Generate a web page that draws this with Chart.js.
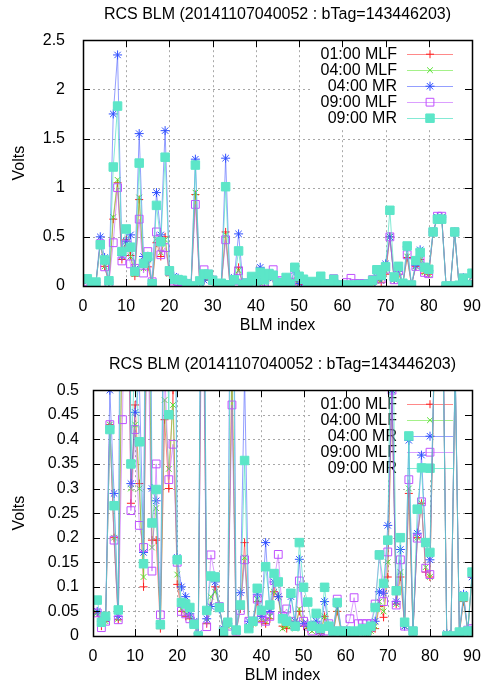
<!DOCTYPE html>
<html>
<head>
<meta charset="utf-8">
<title>RCS BLM</title>
<script src="https://cdn.jsdelivr.net/npm/chart.js@4.4.1/dist/chart.umd.min.js"></script>
<style>
  html, body { margin: 0; padding: 0; background: #fff; overflow: hidden; }
  .panel { position: absolute; left: 0; width: 491px; height: 342px; }
</style>
</head>
<body>
<div class="panel" style="top:0"><canvas id="top" width="491" height="342"></canvas></div>
<div class="panel" style="top:350px"><canvas id="bottom" width="491" height="342"></canvas></div>
<script>
// BLM index 1..90
const blmIndex = Array.from({ length: 90 }, (_, i) => i + 1);

const seriesNames = ['01:00 MLF', '04:00 MLF', '04:00 MR', '09:00 MLF', '09:00 MR'];

const mlf0100 = [
  0.047, 0.02, 0.03, 0.43, 0.2, 0.033, 0.68, 1.05, 0.27, 0.47,
  0.31, 0.1, 0.88, 0.195, 0.195, 0.015, 0.44, 0.3, 0.5, 0.105,
  0.05, 0.04, 0.035, 0.025, 0.0, 0.93, 0.025, 0.06, 0.1, 0.06,
  0.01, 0.02, 0.55, 0.01, 0.055, 0.19, 0.02, 0.025, 0.07, 0.03,
  0.025, 0.035, 0.09, 0.08, 0.02, 0.015, 0.03, 0.02, 0.05, 0.02,
  0.015, 0.015, 0.015, 0.005, 0.04, 0.015, 0.005, 0.05, 0.005, 0.0,
  0.005, 0.005, 0.005, 0.01, 0.005, 0.01, 0.015, 0.06, 0.038, 0.12,
  0.5, 0.065, 0.12, 0.022, 0.29, 0.01, 0.2, 0.27, 0.13, 0.12,
  0.54, 0.7, 0.7, 0.005, 0.0, 0.54, 0.005, 0.07, 0.01, 0.12
];
const mlf0400 = [
  0.047, 0.025, 0.03, 0.43, 0.2, 0.035, 0.7, 1.08, 0.3, 0.43,
  0.3, 0.12, 0.9, 0.18, 0.26, 0.02, 0.48, 0.34, 0.47, 0.125,
  0.055, 0.045, 0.04, 0.025, 0.0, 0.95, 0.03, 0.08, 0.09, 0.06,
  0.01, 0.02, 0.52, 0.01, 0.06, 0.16, 0.02, 0.025, 0.075, 0.035,
  0.03, 0.04, 0.09, 0.08, 0.015, 0.02, 0.02, 0.015, 0.055, 0.025,
  0.02, 0.01, 0.02, 0.005, 0.04, 0.02, 0.005, 0.055, 0.005, 0.0,
  0.01, 0.005, 0.01, 0.01, 0.005, 0.01, 0.02, 0.07, 0.05, 0.15,
  0.5, 0.065, 0.13, 0.02, 0.3, 0.01, 0.2, 0.27, 0.14, 0.12,
  0.54, 0.7, 0.7, 0.005, 0.0, 0.54, 0.005, 0.075, 0.01, 0.12
];
const mr0400 = [
  0.05, 0.03, 0.035, 0.5, 0.29, 0.04, 1.75, 2.35, 0.31, 0.455,
  0.52, 0.17, 1.55, 0.3, 0.275, 0.025, 0.95, 0.52, 1.58, 0.16,
  0.1, 0.08, 0.045, 0.03, 0.005, 1.29, 0.035, 0.06, 0.11, 0.055,
  0.015, 0.025, 1.3, 0.012, 0.088, 0.53, 0.03, 0.03, 0.085, 0.04,
  0.19, 0.05, 0.11, 0.08, 0.035, 0.03, 0.08, 0.03, 0.156, 0.025,
  0.025, 0.02, 0.03, 0.01, 0.07, 0.02, 0.01, 0.065, 0.01, 0.005,
  0.01, 0.005, 0.01, 0.01, 0.01, 0.015, 0.03, 0.09, 0.087, 0.225,
  0.5, 0.07, 0.176, 0.02, 0.398, 0.01, 0.209, 0.368, 0.19, 0.155,
  0.55, 0.7, 0.7, 0.005, 0.0, 0.55, 0.008, 0.085, 0.01, 0.12
];
const mlf0900 = [
  0.047, 0.017, 0.03, 0.43, 0.195, 0.033, 0.44, 1.0, 0.255, 0.42,
  0.225, 0.18, 0.68, 0.132, 0.35, 0.043, 0.55, 0.318, 0.39, 0.15,
  0.05, 0.045, 0.035, 0.025, 0.0, 0.83, 0.019, 0.165, 0.12, 0.06,
  0.01, 0.02, 0.47, 0.01, 0.052, 0.155, 0.03, 0.03, 0.075, 0.035,
  0.03, 0.04, 0.113, 0.166, 0.04, 0.055, 0.03, 0.02, 0.112, 0.03,
  0.02, 0.01, 0.02, 0.01, 0.01, 0.025, 0.01, 0.075, 0.01, 0.01,
  0.035, 0.078, 0.025, 0.025, 0.025, 0.025, 0.065, 0.165, 0.07, 0.171,
  0.5, 0.063, 0.155, 0.02, 0.318, 0.01, 0.199, 0.273, 0.138, 0.125,
  0.55, 0.71, 0.71, 0.0, 0.0, 0.55, 0.005, 0.08, 0.012, 0.015
];
const mr0900 = [
  0.073, 0.028, 0.04, 0.42, 0.265, 0.053, 1.21, 1.83, 0.35, 0.58,
  0.395, 0.147, 1.25, 0.23, 0.298, 0.023, 0.82, 0.45, 1.31, 0.155,
  0.068, 0.065, 0.058, 0.024, 0.0, 1.23, 0.052, 0.122, 0.12, 0.058,
  0.009, 0.028, 1.01, 0.012, 0.063, 0.357, 0.015, 0.03, 0.097, 0.052,
  0.141, 0.063, 0.127, 0.11, 0.035, 0.03, 0.087, 0.02, 0.19, 0.099,
  0.069, 0.02, 0.046, 0.015, 0.099, 0.02, 0.01, 0.068, 0.01, 0.005,
  0.01, 0.005, 0.01, 0.015, 0.01, 0.02, 0.058, 0.165, 0.107, 0.195,
  0.77, 0.092, 0.2, 0.028, 0.407, 0.01, 0.258, 0.342, 0.19, 0.17,
  0.55, 0.68, 0.68, 0.0, 0.0, 0.55, 0.008, 0.08, 0.01, 0.13
];

const titleText = 'RCS BLM (20141107040052 : bTag=143446203)';

Chart.defaults.font.family = '"Liberation Sans", Arial, sans-serif';
Chart.defaults.color = '#000';

const styles = [
  { line: 'rgba(255,40,40,0.55)',  point: '#ff2020', shape: 'cross',    r: 4,   fill: 'rgba(0,0,0,0)' },
  { line: 'rgba(90,230,40,0.55)',  point: '#55e030', shape: 'crossRot', r: 4,   fill: 'rgba(0,0,0,0)' },
  { line: 'rgba(60,80,255,0.55)',  point: '#3050ff', shape: 'star',     r: 4.5, fill: 'rgba(0,0,0,0)' },
  { line: 'rgba(190,80,255,0.55)', point: '#c050ff', shape: 'rect',     r: 5.5, fill: 'rgba(0,0,0,0)' },
  { line: 'rgba(80,225,195,0.7)',  point: '#5ce6c8', shape: 'rect',     r: 6,   fill: '#5ce6c8' }
];

const seriesValues = [mlf0100, mlf0400, mr0400, mlf0900, mr0900];

function makeDatasets() {
  return seriesValues.map((vals, i) => ({
    label: seriesNames[i],
    data: blmIndex.map((x, k) => ({ x, y: vals[k] })),
    borderColor: styles[i].line,
    borderWidth: 1,
    pointStyle: styles[i].shape,
    pointRadius: styles[i].r,
    pointBorderColor: styles[i].point,
    pointBackgroundColor: styles[i].fill,
    pointBorderWidth: 1,
    tension: 0,
    order: 5 - i
  }));
}

// gnuplot-like frame: dotted grid, inward ticks on all sides, key inside
const gnuplotFrame = {
  id: 'gnuplotFrame',
  beforeDatasetsDraw(chart) {
    const { ctx, chartArea: a, scales: { x, y } } = chart;
    const key = chart.options.plugins.gnuplotFrame;
    ctx.save();
    ctx.strokeStyle = '#a8a8a8';
    ctx.lineWidth = 1;
    ctx.setLineDash([2, 3]);
    ctx.beginPath();
    x.ticks.forEach(t => {
      const px = Math.round(x.getPixelForValue(t.value)) + 0.5;
      if (px <= a.left + 2 || px >= a.right - 2) return;
      ctx.moveTo(px, a.top); ctx.lineTo(px, a.bottom);
    });
    y.ticks.forEach(t => {
      const py = Math.round(y.getPixelForValue(t.value)) + 0.5;
      if (py <= a.top + 2 || py >= a.bottom - 2) return;
      ctx.moveTo(a.left, py); ctx.lineTo(a.right, py);
    });
    ctx.stroke();
    ctx.setLineDash([]);

    // key area hides the grid
    ctx.fillStyle = '#fff';
    ctx.fillRect(key.boxLeft, a.top + 1, a.right - 1 - key.boxLeft, key.boxBottom);

    ctx.font = '16px "Liberation Sans", Arial, sans-serif';
    ctx.textAlign = 'right';
    ctx.textBaseline = 'middle';
    chart.data.datasets.forEach((ds, i) => {
      const yy = a.top + key.firstRow + i * key.rowGap;
      ctx.fillStyle = '#000';
      ctx.fillText(ds.label, key.textRight, yy);
      ctx.strokeStyle = ds.borderColor;
      ctx.lineWidth = 1;
      ctx.beginPath();
      ctx.moveTo(key.sampleLeft, Math.round(yy) + 0.5);
      ctx.lineTo(key.sampleRight, Math.round(yy) + 0.5);
      ctx.stroke();
      ctx.strokeStyle = ds.pointBorderColor;
      ctx.fillStyle = ds.pointBackgroundColor;
      Chart.helpers.drawPoint(ctx, {
        pointStyle: ds.pointStyle, radius: ds.pointRadius, rotation: 0, borderWidth: 1
      }, (key.sampleLeft + key.sampleRight) / 2, yy);
    });
    ctx.restore();
  },
  afterDraw(chart) {
    const { ctx, chartArea: a, scales: { x, y } } = chart;
    const tl = 7;
    ctx.save();
    ctx.strokeStyle = '#000';
    ctx.lineWidth = 1;
    ctx.beginPath();
    x.ticks.forEach(t => {
      const px = Math.round(x.getPixelForValue(t.value)) + 0.5;
      ctx.moveTo(px, a.bottom); ctx.lineTo(px, a.bottom - tl);
      ctx.moveTo(px, a.top); ctx.lineTo(px, a.top + tl);
    });
    y.ticks.forEach(t => {
      const py = Math.round(y.getPixelForValue(t.value)) + 0.5;
      ctx.moveTo(a.left, py); ctx.lineTo(a.left + tl, py);
      ctx.moveTo(a.right, py); ctx.lineTo(a.right - tl, py);
    });
    ctx.stroke();
    ctx.lineWidth = 1.5;
    ctx.strokeRect(Math.round(a.left) + 0.5, Math.round(a.top) + 0.5,
      Math.round(a.right - a.left), Math.round(a.bottom - a.top));
    ctx.restore();
  }
};

function makeChart(canvasId, yMax, yStep, yAxisWidth, yPad) {
  return new Chart(document.getElementById(canvasId), {
    type: 'line',
    data: { datasets: makeDatasets() },
    plugins: [gnuplotFrame],
    options: {
      responsive: false,
      animation: false,
      layout: { padding: { top: 4, left: 6, right: 19, bottom: 4 } },
      plugins: {
        legend: { display: false },
        tooltip: { enabled: false },
        title: {
          display: true,
          text: titleText,
          fullSize: false,
          font: { size: 16, weight: 'normal' },
          color: '#000',
          padding: { top: 1, bottom: 16 }
        },
        gnuplotFrame: {
          boxLeft: 312, boxBottom: 87,
          firstRow: 14, rowGap: 16,
          textRight: 397, sampleLeft: 407, sampleRight: 453
        }
      },
      scales: {
        x: {
          type: 'linear',
          min: 0,
          max: 90,
          grid: { display: false },
          border: { display: false },
          ticks: { stepSize: 10, font: { size: 16 }, color: '#000', padding: 3, maxRotation: 0 },
          title: { display: true, text: 'BLM index', font: { size: 16 }, color: '#000', padding: { top: 0, bottom: 3 } },
          afterFit(s) { s.height = 52; }
        },
        y: {
          min: 0,
          max: yMax,
          grid: { display: false },
          border: { display: false },
          ticks: {
            stepSize: yStep,
            font: { size: 16 },
            color: '#000',
            padding: yPad,
            callback: v => String(parseFloat(Number(v).toFixed(3)))
          },
          title: { display: true, text: 'Volts', font: { size: 16 }, color: '#000', padding: { top: 4, bottom: 0 } },
          afterFit(s) { s.width = yAxisWidth; }
        }
      }
    }
  });
}

makeChart('top', 2.5, 0.5, 77, 10);
makeChart('bottom', 0.5, 0.05, 87, 6);
</script>
</body>
</html>
